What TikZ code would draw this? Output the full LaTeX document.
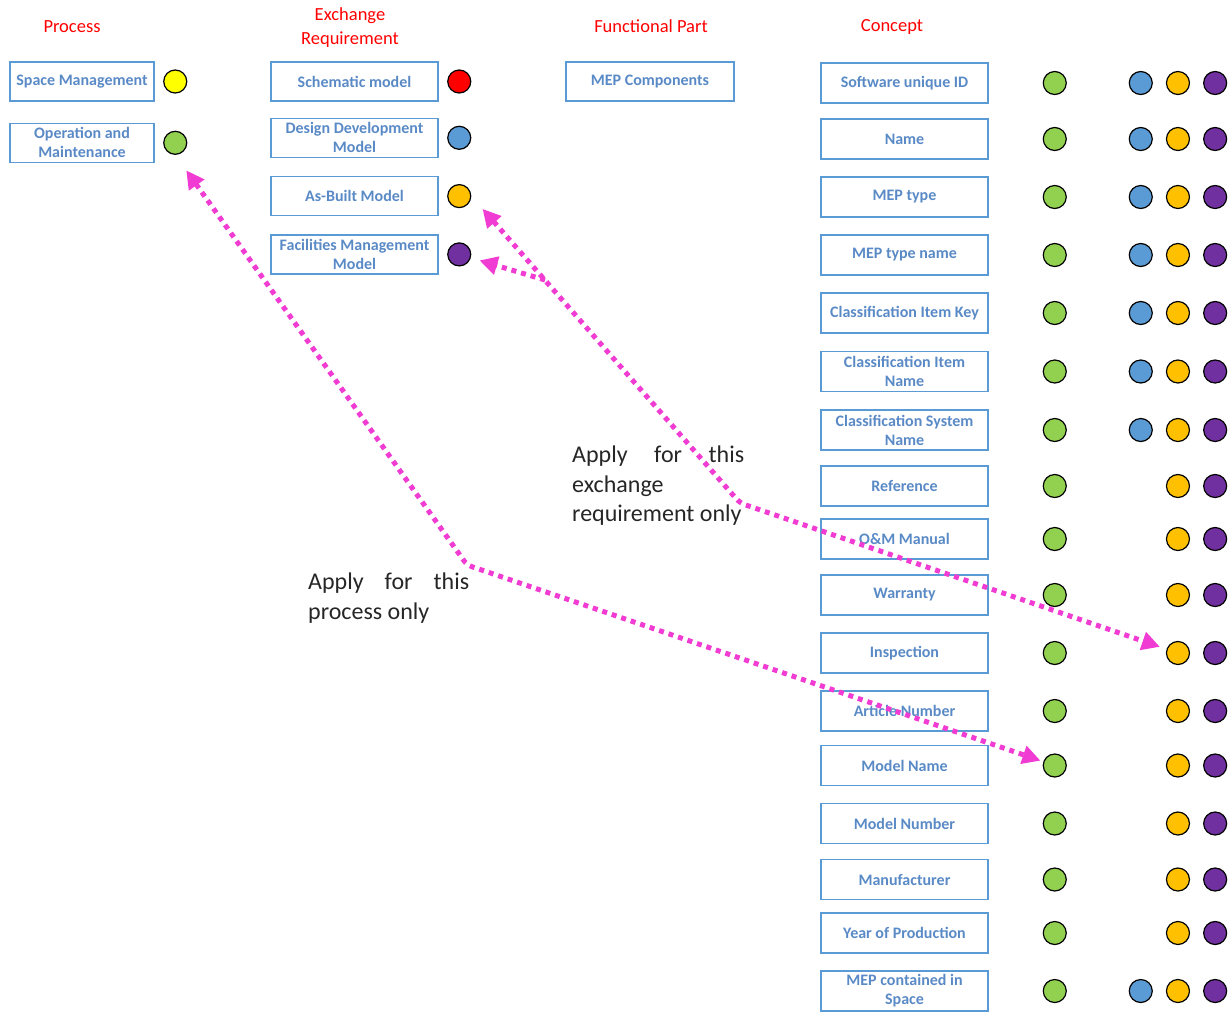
\documentclass[tikz,border=0pt]{standalone}
\usepackage{fontspec}
\setmainfont{Carlito}
\usetikzlibrary{arrows.meta,positioning}
\definecolor{frame}{HTML}{5B9BD5}
\definecolor{boxtext}{HTML}{5A8AC6}
\definecolor{titlered}{HTML}{FF0000}
\definecolor{link}{HTML}{F03CD2}
\definecolor{dgreen}{HTML}{92D050}
\definecolor{dblue}{HTML}{5B9BD5}
\definecolor{dorange}{HTML}{FFC000}
\definecolor{dpurple}{HTML}{7030A0}
\definecolor{dred}{HTML}{FF0000}
\definecolor{dyellow}{HTML}{FFFF00}

\begin{document}
\begin{tikzpicture}[x=1pt,y=-1pt,
 box/.style={draw=frame,line width=1.3pt,minimum height=39pt,inner sep=1pt,
 align=center,text=boxtext,font=\fontsize{16}{19}\selectfont\bfseries},
 pbox/.style={box,minimum width=144pt},
 ebox/.style={box,minimum width=167pt},
 cbox/.style={box,minimum width=167pt,minimum height=40pt},
 dot/.style={circle,draw=black,line width=1.2pt,minimum size=23pt,inner sep=0pt},
 title/.style={text=titlered,align=center,font=\fontsize{18.5}{24}\selectfont},
 note/.style={align=justify,inner sep=0pt,anchor=north west,text=black!85,
 font=\fontsize{24}{29.5}\selectfont},
 conn/.style={draw=link,line width=5pt,dash pattern=on 5pt off 5pt,
 rounded corners=5pt},
 arr/.style={-{Triangle[length=18pt,width=18pt]}},
 arrs/.style={{Triangle[length=18pt,width=18pt]}-{Triangle[length=18pt,width=18pt]}}]
 \useasboundingbox (0,0) rectangle (1231,1012);
 % column titles
 \node[title] (hproc) at (72,27) {Process};
 \node[title] (hexch) at (350,28) {Exchange\\Requirement};
 \node[title] (hfunc) at (651,26) {Functional Part};
 \node[title] (hconc) at (892,27) {Concept};
 % process
 \node[pbox] (space) at (82,81.5) {Space Management};
 \node[pbox,below=21pt of space] (opm) {Operation and\\Maintenance};
 \node[dot,fill=dyellow,right=8.5pt of space] (ysm) {};
 \node[dot,fill=dgreen,right=8.5pt of opm] (gom) {};
 % exchange requirements
 \node[ebox] (schem) at (354.5,81.5) {Schematic model};
 \node[ebox,below=16pt of schem] (ddm) {Design Development\\Model};
 \node[ebox,below=18pt of ddm] (abm) {As-Built Model};
 \node[ebox,below=18pt of abm] (fmm) {Facilities Management\\Model};
 \node[dot,fill=dred,right=8.5pt of schem] (rsc) {};
 \node[dot,fill=dblue,right=8.5pt of ddm] (bdd) {};
 \node[dot,fill=dorange,right=8.5pt of abm] (oab) {};
 \node[dot,fill=dpurple,right=8.5pt of fmm] (pfm) {};
 % functional part
 \node[box,minimum width=168pt] (mep) at (650,81.5) {MEP Components};
 % concepts
 \node[cbox] (c1) at (904.5,83) {Software unique ID};
 \node[cbox] (c2) at (904.5,139) {Name};
 \node[cbox] (c3) at (904.5,197) {MEP type};
 \node[cbox] (c4) at (904.5,255) {MEP type name};
 \node[cbox] (c5) at (904.5,313) {Classification Item Key};
 \node[cbox] (c6) at (904.5,371.5) {Classification Item\\Name};
 \node[cbox] (c7) at (904.5,430) {Classification System\\Name};
 \node[cbox] (c8) at (904.5,486) {Reference};
 \node[cbox] (c9) at (904.5,539) {O\&M Manual};
 \node[cbox] (c10) at (904.5,595) {Warranty};
 \node[cbox] (c11) at (904.5,653) {Inspection};
 \node[cbox] (c12) at (904.5,711) {Article Number};
 \node[cbox] (c13) at (904.5,765.5) {Model Name};
 \node[cbox] (c14) at (904.5,823.5) {Model Number};
 \node[cbox] (c15) at (904.5,879.5) {Manufacturer};
 \node[cbox] (c16) at (904.5,933) {Year of Production};
 \node[cbox] (c17) at (904.5,991) {MEP contained in\\Space};
 \foreach \i in {1,...,17}{
 \node[dot,fill=dgreen,right=54pt of c\i] (g\i) {};
 \node[dot,fill=dorange,right=99pt of g\i] (o\i) {};
 \node[dot,fill=dpurple,right=13pt of o\i] (p\i) {};
 }
 \foreach \i in {1,2,3,4,5,6,7,17}
 \node[dot,fill=dblue,left=13pt of o\i] (b\i) {};
 % notes
 \node[note,text width=172pt] (noteex) at (572,446)
 {Apply for this\linebreak exchange\newline requirement only};
 \node[note,text width=161pt] (notepr) at (308,573)
 {Apply for this\linebreak process only};
 % links
 \coordinate (kneeP) at (467,565);
 \coordinate (kneeX) at (740,503);
 \coordinate (split) at (545,280);
 \draw[conn,arrs,shorten <=19pt,shorten >=3pt] (gom.south) -- (kneeP) -- (g13);
 \draw[conn,arrs,shorten <=17pt,shorten >=7pt] (oab.east) -- (kneeX) -- (o11);
 \draw[conn,arr,shorten >=9pt] (split) -- (pfm);
\end{tikzpicture}
\end{document}
